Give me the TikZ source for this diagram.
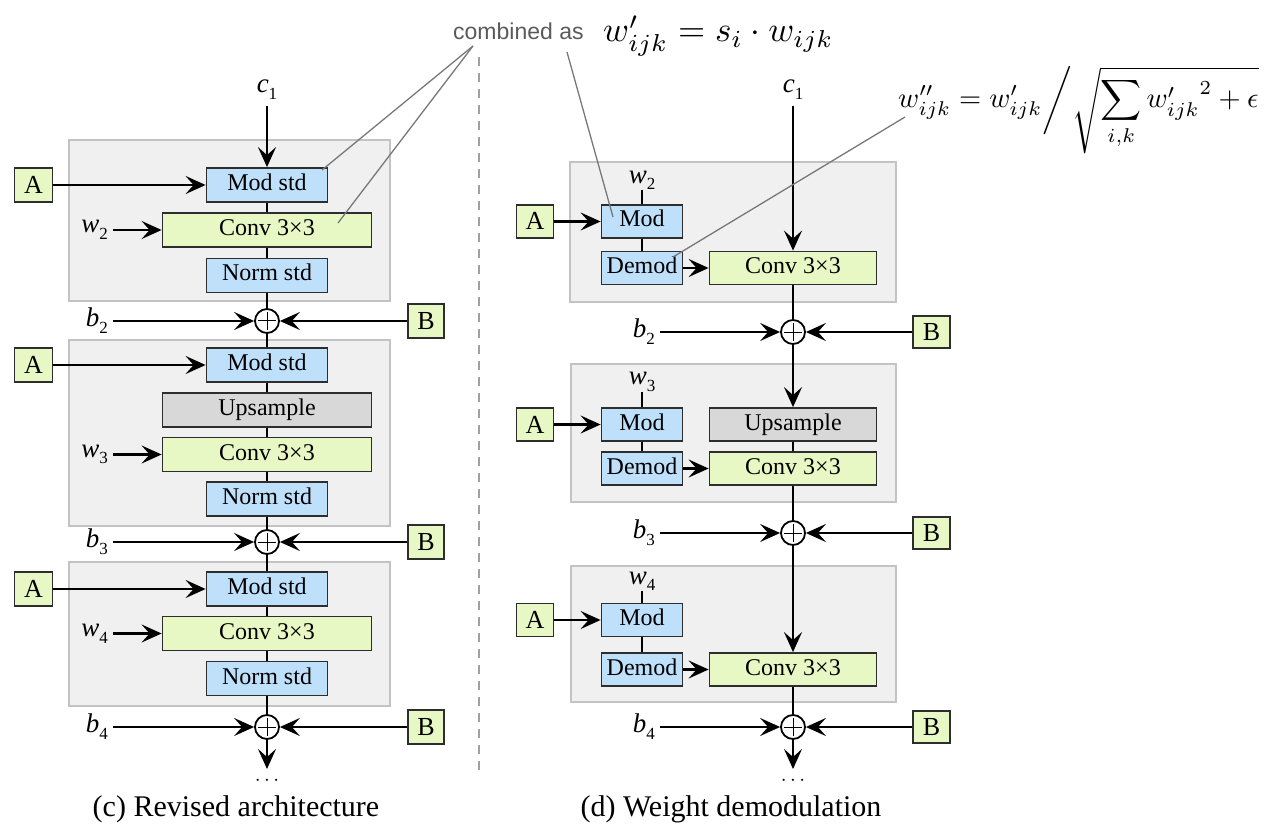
\documentclass[tikz,border=0pt]{standalone}
\usepackage{fontspec}
\setmainfont{Liberation Serif}
\newfontfamily\sansf{Liberation Sans}
\usetikzlibrary{arrows.meta}
\definecolor{blueC}{RGB}{190,224,250}
\definecolor{greenC}{RGB}{232,248,196}
\definecolor{upC}{RGB}{216,216,216}
\definecolor{bgC}{RGB}{240,240,240}
\definecolor{bgB}{RGB}{195,195,195}
\definecolor{bordC}{RGB}{45,45,45}
\definecolor{leadC}{RGB}{120,120,120}
\definecolor{dashC}{RGB}{160,160,160}
\definecolor{combC}{RGB}{90,90,90}
\newcommand{\mylab}[2]{\textit{#1}\raisebox{-0.25em}{\fontsize{17}{17}\selectfont #2}}
\tikzset{
 blk/.style={draw=bordC, line width=1.8pt, minimum height=34pt, inner sep=0pt,
   text height=15pt, text depth=4pt, font=\fontsize{24}{26}\selectfont},
 bluebox/.style={blk, fill=blueC},
 greenbox/.style={blk, fill=greenC},
 upbox/.style={blk, fill=upC},
 inbox/.style={blk, fill=greenC, minimum width=38pt, text height=17pt, text depth=0pt, font=\fontsize{26}{28}\selectfont},
 itlab/.style={inner sep=1pt, font=\fontsize{27}{29}\selectfont},
 sumnode/.style={circle, draw=black, fill=white, line width=1.8pt, minimum size=24pt, inner sep=0pt,
   path picture={\draw[line width=1pt]
     ([xshift=-9pt]path picture bounding box.center) -- ([xshift=9pt]path picture bounding box.center)
     ([yshift=-9pt]path picture bounding box.center) -- ([yshift=9pt]path picture bounding box.center);}},
 arr/.style={-{Stealth[length=20pt,width=18pt,inset=8pt]}, line width=2.2pt},
 flow/.style={line width=2.2pt},
 leader/.style={draw=leadC, line width=1.3pt},
 graybg/.style={draw=bgB, fill=bgC, line width=1.5pt},
 dashline/.style={draw=dashC, line width=1.5pt, dash pattern=on 9pt off 7pt},
}
\begin{document}
\begin{tikzpicture}[x=1pt,y=-1pt]
\useasboundingbox (0,0) rectangle (1269,826);
% ---------- left: (c) ----------
\draw[graybg] (69,140) rectangle (390,301);
\draw[graybg] (69,340) rectangle (390,526);
\draw[graybg] (69,562) rectangle (390,706);

\node[itlab] (c1L) at (267,90) {\mylab{c}{1}};

\node[bluebox, minimum width=121pt] (mL1) at (267,185) {Mod std};
\node[greenbox, minimum width=209pt] (cL1) at (267,230) {Conv 3×3};
\node[bluebox, minimum width=121pt] (nL1) at (267,275.5) {Norm std};
\node[sumnode] (pL1) at (267,321) {};
\node[inbox] (aL1) at (33.5,185) {A};
\node[inbox, minimum width=36pt] (BL1) at (426,321) {B};
\node[itlab, anchor=east] (wL1) at (109,230) {\mylab{w}{2}};
\node[itlab, anchor=east] (bL1) at (109,321) {\mylab{b}{2}};

\node[bluebox, minimum width=121pt] (mL2) at (267,365) {Mod std};
\node[upbox, minimum width=209pt] (uL2) at (267,410) {Upsample};
\node[greenbox, minimum width=209pt] (cL2) at (267,454.5) {Conv 3×3};
\node[bluebox, minimum width=121pt] (nL2) at (267,499) {Norm std};
\node[sumnode] (pL2) at (267,542) {};
\node[inbox] (aL2) at (33.5,365) {A};
\node[inbox, minimum width=36pt] (BL2) at (426,542) {B};
\node[itlab, anchor=east] (wL2) at (109,454.5) {\mylab{w}{3}};
\node[itlab, anchor=east] (bL2) at (109,542) {\mylab{b}{3}};

\node[bluebox, minimum width=121pt] (mL3) at (267,589) {Mod std};
\node[greenbox, minimum width=209pt] (cL3) at (267,633.5) {Conv 3×3};
\node[bluebox, minimum width=121pt] (nL3) at (267,678.5) {Norm std};
\node[sumnode] (pL3) at (267,727) {};
\node[inbox] (aL3) at (33.5,589) {A};
\node[inbox, minimum width=36pt] (BL3) at (426,727) {B};
\node[itlab, anchor=east] (wL3) at (109,633.5) {\mylab{w}{4}};
\node[itlab, anchor=east] (bL3) at (109,727) {\mylab{b}{4}};

\coordinate (endL) at (267,769);
\node[font=\fontsize{22}{22}\selectfont, inner sep=0pt] (dotsL) at (267,781) {$\cdots$};

\draw[arr, shorten <=5pt] (c1L) -- (mL1);
\draw[flow] (mL1) -- (cL1) -- (nL1) -- (pL1) -- (mL2) -- (uL2) -- (cL2) -- (nL2) -- (pL2)
   -- (mL3) -- (cL3) -- (nL3) -- (pL3);
\draw[arr] (pL3) -- (endL);
\foreach \i in {1,2,3}{
  \draw[arr] (aL\i) -- (mL\i);
  \draw[arr, shorten <=4pt] (wL\i.east) -- (cL\i.west);
  \draw[arr, shorten <=4pt] (bL\i.east) -- (pL\i.west);
  \draw[arr] (BL\i.west) -- (pL\i.east);
}

% ---------- right: (d) ----------
\draw[graybg] (570,162) rectangle (896,302);
\draw[graybg] (571,364) rectangle (896,502);
\draw[graybg] (571,566) rectangle (896,702);

\node[itlab] (c1R) at (793,90) {\mylab{c}{1}};

\node[bluebox, minimum width=81pt, minimum height=33pt] (mR1) at (642,221.5) {Mod};
\node[bluebox, minimum width=81pt, minimum height=33pt] (dR1) at (642,268) {Demod};
\node[greenbox, minimum width=167pt, minimum height=33pt] (cR1) at (793,268) {Conv 3×3};
\node[inbox, minimum width=37pt, minimum height=33pt] (aR1) at (535,221.5) {A};
\node[itlab, anchor=south, inner sep=0pt] (wR1) at (642,190) {\mylab{w}{2}};
\node[sumnode] (pR1) at (793,332) {};
\node[itlab, anchor=east] (bR1) at (656,332) {\mylab{b}{2}};
\node[inbox, minimum width=37pt, minimum height=32pt] (BR1) at (931.5,332) {B};

\node[bluebox, minimum width=81pt, minimum height=33pt] (mR2) at (642,424.5) {Mod};
\node[upbox, minimum width=167pt, minimum height=33pt] (uR2) at (793,424.5) {Upsample};
\node[bluebox, minimum width=81pt, minimum height=33pt] (dR2) at (642,468.5) {Demod};
\node[greenbox, minimum width=167pt, minimum height=33pt] (cR2) at (793,468.5) {Conv 3×3};
\node[inbox, minimum width=37pt, minimum height=33pt] (aR2) at (535,424.5) {A};
\node[itlab, anchor=south, inner sep=0pt] (wR2) at (642,392) {\mylab{w}{3}};
\node[sumnode] (pR2) at (793,533) {};
\node[itlab, anchor=east] (bR2) at (656,533) {\mylab{b}{3}};
\node[inbox, minimum width=37pt, minimum height=32pt] (BR2) at (931.5,533) {B};

\node[bluebox, minimum width=81pt, minimum height=33pt] (mR3) at (642,620) {Mod};
\node[bluebox, minimum width=81pt, minimum height=33pt] (dR3) at (642,669.5) {Demod};
\node[greenbox, minimum width=167pt, minimum height=33pt] (cR3) at (793,669.5) {Conv 3×3};
\node[inbox, minimum width=37pt, minimum height=33pt] (aR3) at (535,620) {A};
\node[itlab, anchor=south, inner sep=0pt] (wR3) at (642,591) {\mylab{w}{4}};
\node[sumnode] (pR3) at (793,727) {};
\node[itlab, anchor=east] (bR3) at (656,727) {\mylab{b}{4}};
\node[inbox, minimum width=37pt, minimum height=32pt] (BR3) at (931.5,727) {B};

\coordinate (endR) at (793,769);
\node[font=\fontsize{22}{22}\selectfont, inner sep=0pt] (dotsR) at (793,781) {$\cdots$};

\draw[arr, shorten <=5pt] (c1R) -- (cR1);
\draw[flow] (cR1) -- (pR1);
\draw[arr] (pR1) -- (uR2);
\draw[flow] (uR2) -- (cR2) -- (pR2);
\draw[arr] (pR2) -- (cR3);
\draw[flow] (cR3) -- (pR3);
\draw[arr] (pR3) -- (endR);
\foreach \i in {1,2,3}{
  \draw[flow] (wR\i.south) -- (mR\i.north);
  \draw[flow] (mR\i) -- (dR\i);
  \draw[arr] (aR\i) -- (mR\i);
  \draw[arr] (dR\i) -- (cR\i);
  \draw[arr, shorten <=4pt] (bR\i.east) -- (pR\i.west);
  \draw[arr] (BR\i.west) -- (pR\i.east);
}

% ---------- separator ----------
\coordinate (dtop) at (479,57);
\coordinate (dbot) at (479,772);
\draw[dashline] (dtop) -- (dbot);

% ---------- annotations ----------
\node[anchor=base west, inner sep=0pt, font=\sansf\fontsize{23}{25}\selectfont, text=combC] (comb) at (453,40) {combined as};
\node[anchor=base west, inner sep=0pt] (f1) at (603,42) {\scalebox{3.5}{$w'_{ijk}=s_i\cdot w_{ijk}$}};
\node[anchor=base west, inner sep=0pt] (f2) at (898,108) {\scalebox{2.85}{$\displaystyle w''_{ijk}=w'_{ijk}\bigg/\sqrt{\sum_{i,k}{w'_{ijk}}^{2}+\epsilon}$}};

\coordinate (cm1) at (473,46);
\coordinate (cm2) at (567,52);
\coordinate (e1) at (322,170);
\coordinate (e2) at (338,223);
\coordinate (e3) at (613,217);
\coordinate (fw) at (905,117);
\coordinate (e4) at (673,257);
\draw[leader] (cm1) -- (e1);
\draw[leader] (cm1) -- (e2);
\draw[leader] (cm2) -- (e3);
\draw[leader] (fw) -- (e4);

% ---------- captions ----------
\node[anchor=base, font=\fontsize{30}{32}\selectfont] (capc) at (236,816) {(c) Revised architecture};
\node[anchor=base, font=\fontsize{30}{32}\selectfont] (capd) at (731,816) {(d) Weight demodulation};
\end{tikzpicture}
\end{document}
